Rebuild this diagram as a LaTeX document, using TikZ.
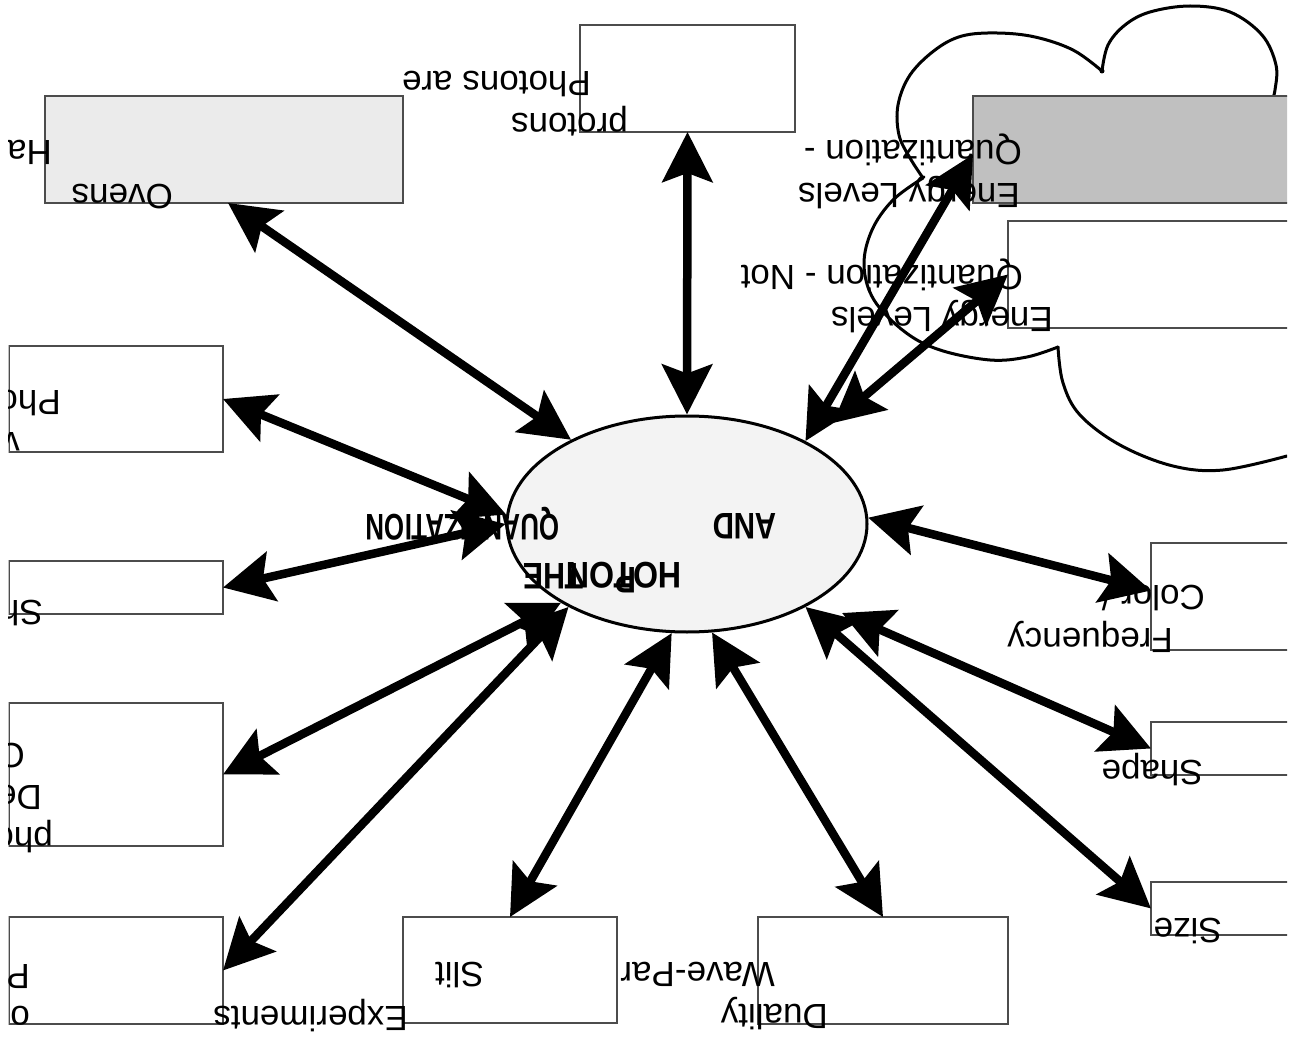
\documentclass[tikz,border=0pt]{standalone}
\usepackage{fontspec}
\setmainfont{Liberation Sans}
\usepackage{graphicx}
\usetikzlibrary{arrows.meta,shapes.geometric,calc}
\definecolor{ovfill}{HTML}{EBEBEB}
\definecolor{qfill}{HTML}{C0C0C0}
\definecolor{ellfill}{HTML}{F3F3F3}
\tikzset{
  rbox/.style={draw=black!70, line width=1.4pt, fill=white, inner sep=0pt, outer sep=0pt},
  conn/.style={line width=8.5pt, {Stealth[length=50pt,width=50pt,inset=9pt]}-{Stealth[length=50pt,width=50pt,inset=9pt]}},
  lbl/.style={rotate=180, anchor=base west, inner sep=0pt, font=\fontsize{35}{42}\selectfont},
  blbl/.style={rotate=180, anchor=base west, inner sep=0pt, font=\bfseries\fontsize{37}{44}\selectfont},
  cloudline/.style={line width=3pt, line join=round, line cap=round}
}
\begin{document}
\begin{tikzpicture}[x=1pt,y=-1pt]
\useasboundingbox (0,0) rectangle (1290,1040);
\fill[white] (0,0) rectangle (1290,1040);
\begin{scope}
\clip (8.5,0) rectangle (1287,1040);

% cloud
\draw[cloudline] plot[smooth, tension=0.6] coordinates {(1102,71) (1108,45) (1125,25) (1150,12) (1190,6) (1230,12) (1262,35) (1276,65) (1275,90) (1272,100)};
\draw[cloudline] plot[smooth, tension=0.6] coordinates {(1102,71) (1073,50) (1035,37) (997,33) (962,36) (935,50) (910,75) (898,105) (899,135) (910,158) (923,178)};
\draw[cloudline] plot[smooth, tension=0.6] coordinates {(923,178) (893,200) (872,230) (864,265) (874,300) (905,332) (940,350) (990,360) (1027,357) (1058,347)};
\draw[cloudline] plot[smooth, tension=0.6] coordinates {(1058,347) (1063,383) (1080,415) (1120,445) (1173,466) (1223,470) (1287,456)};
\fill (1102,71) circle (2.5pt);

% boxes
\node[rbox, fill=ovfill, minimum width=358pt, minimum height=107pt] (ovens) at (224,149.5) {};
\node[rbox, minimum width=215pt, minimum height=107pt] (photons) at (687.5,78.5) {};
\node[rbox, fill=qfill, minimum width=327pt, minimum height=107pt] (qbox1) at (1136.5,149.5) {};
\node[rbox, minimum width=292pt, minimum height=107pt] (qbox2) at (1154,274.5) {};
\node[rbox, minimum width=214pt, minimum height=106pt] (phc) at (116,399) {};
\node[rbox, minimum width=214pt, minimum height=53pt] (sh) at (116,587.5) {};
\node[rbox, minimum width=214pt, minimum height=143pt] (de) at (116,774.5) {};
\node[rbox, minimum width=214pt, minimum height=107pt] (pbox) at (116,970.5) {};
\node[rbox, minimum width=214pt, minimum height=106pt] (slit) at (510,970) {};
\node[rbox, minimum width=250pt, minimum height=107pt] (duality) at (883,970.5) {};
\node[rbox, minimum width=149pt, minimum height=107pt] (color) at (1225.5,596.5) {};
\node[rbox, minimum width=149pt, minimum height=53pt] (shape) at (1225.5,748.5) {};
\node[rbox, minimum width=149pt, minimum height=53pt] (size) at (1225.5,908.5) {};

% central ellipse
\node[ellipse, draw, line width=3pt, fill=ellfill, minimum width=360pt, minimum height=216pt, inner sep=0pt] (ell) at (687,524) {};

\coordinate (q2e) at (833,423);
\coordinate (shapee) at (842,613);

% connectors
\draw[conn] (ell.144) -- ([xshift=4pt]ovens.south);
\draw[conn] (ell.north) -- (photons.south);
\draw[conn] (ell.35) -- ([yshift=-5pt]qbox1.west);
\draw[conn] (q2e) -- (qbox2.west);
\draw[conn] (ell.2) -- ([yshift=6pt]color.west);
\draw[conn] (shapee) -- (shape.west);
\draw[conn] (ell.-35) -- (size.west);
\draw[conn] (ell.-77) -- (duality.north);
\draw[conn] (ell.-98) -- (slit.north);
\draw[conn] (ell.-145) -- (pbox.east);
\draw[conn] (ell.-148) -- (de.east);
\draw[conn] (ell.west) -- (sh.east);
\draw[conn] (ell.177) -- (phc.east);

% texts (upside down)
\node[lbl] (t1) at (591,72) {Photons are};
\node[lbl] (t2) at (628,114) {protons};
\node[lbl] (t3) at (52,141) {Ha};
\node[lbl] (t4) at (173,185) {Ovens};
\node[lbl] (t5) at (1022,141) {Quantization -};
\node[lbl] (t6) at (1020,184) {Energy Levels};
\node[lbl] (t7) at (1023,266) {Quantization - Not};
\node[lbl] (t8) at (1053,308) {Energy Levels};
\node[lbl] (t9) at (61,390) {Pho};
\node[lbl] (t10) at (20,432) {v};
\node[lbl] (t11) at (43,600) {Sh};
\node[lbl] (t12) at (25,743) {C};
\node[lbl] (t13) at (42,785) {De};
\node[lbl] (t14) at (53,827) {pho};
\node[lbl] (t15) at (30,964) {P};
\node[lbl] (t16) at (30,1006) {o};
\node[lbl] (t17) at (484,962) {Slit};
\node[lbl] (t18) at (408,1006) {Experiments};
\node[lbl] (t19) at (775,962) {Wave-Par};
\node[lbl] (t20) at (828,1004) {Duality};
\node[lbl] (t21) at (1205,585) {Color /};
\node[lbl] (t22) at (1173,628) {Frequency};
\node[lbl] (t23) at (1203,760) {Shape};
\node[lbl] (t24) at (1222,918) {Size};

% ellipse texts
\node[blbl] (e1) at (777,513) {\scalebox{0.8}[1]{AND}};
\node[blbl] (e2) at (560,514) {\scalebox{0.7}[1]{QUANTIZATION}};
\node[blbl] (e3) at (584,563) {\scalebox{0.82}[1]{THE}};
\node[blbl] (e4) at (682,562) {\scalebox{0.87}[1]{HOTON}};
\node[blbl] (e5) at (637,567) {\scalebox{0.85}[1]{P}};
\end{scope}
\end{tikzpicture}
\end{document}
